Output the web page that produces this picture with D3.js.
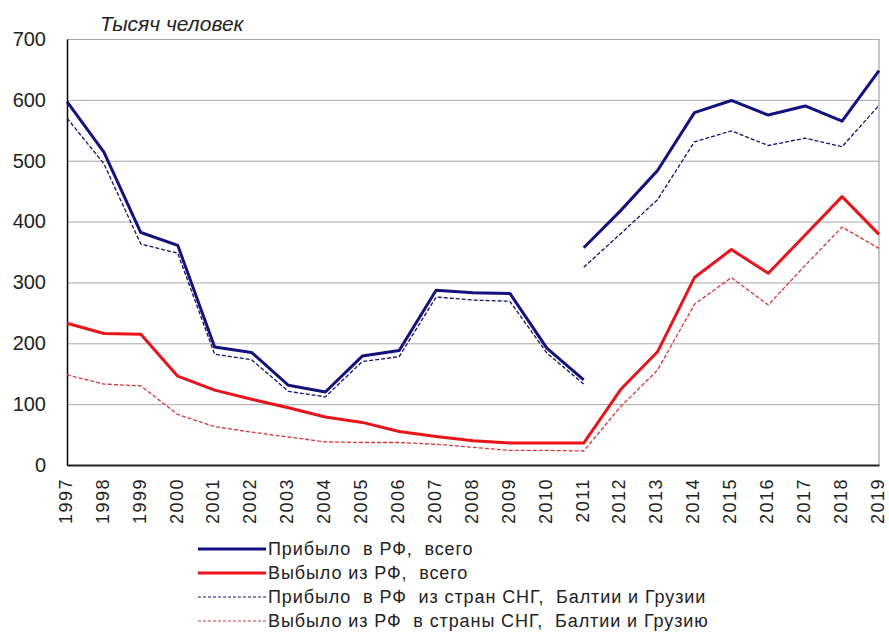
<!DOCTYPE html>
<html>
<head>
<meta charset="utf-8">
<script src="https://cdn.jsdelivr.net/npm/d3@7"></script>
<style>
  body { margin: 0; background: #fff; }
  text { font-family: Arial, "Liberation Sans", sans-serif; fill: #222; }
</style>
</head>
<body>
<div id="chart"></div>
<script>
const years = [1997, 1998, 1999, 2000, 2001, 2002, 2003, 2004, 2005, 2006, 2007, 2008,
               2009, 2010, 2011, 2012, 2013, 2014, 2015, 2016, 2017, 2018, 2019];
const yTicks = [0, 100, 200, 300, 400, 500, 600, 700];

// arrivals, old methodology 1997-2011 and new methodology 2011-2019
const arrivedOld = [597, 514, 382, 361, 194, 185, 131, 120, 179, 188, 287, 283, 282, 192, 140];
const arrivedNew = [357, 418, 484, 579, 599, 575, 590, 565, 648];
const cisArrivedOld = [570, 495, 363, 348, 182, 173, 121, 112, 170, 178, 276, 271, 269, 184, 133];
const cisArrivedNew = [325, 380, 436, 531, 549, 525, 537, 523, 591];
// departures 1997-2019
const departed = [233, 216, 215, 146, 123, 108, 94, 79, 70, 55, 47, 40, 36, 36, 36,
                  124, 186, 308, 354, 315, 378, 441, 379];
const cisDeparted = [148, 133, 130, 83, 63, 54, 46, 38, 37, 37, 34, 29, 24, 24, 23,
                     96, 156, 264, 308, 263, 328, 391, 356];

const legendLabels = [
  "Прибыло  в РФ,  всего",
  "Выбыло из РФ,  всего",
  "Прибыло  в РФ  из стран СНГ,  Балтии и Грузии",
  "Выбыло из РФ  в страны СНГ,  Балтии и Грузию"
];

const W = 889, H = 641;
const margin = { left: 67, right: 879, top: 39, bottom: 465 };

const svg = d3.select("#chart").append("svg")
  .attr("width", W)
  .attr("height", H);

const x = d3.scalePoint().domain(years).range([margin.left, margin.right]);
const y = d3.scaleLinear().domain([0, 700]).range([margin.bottom, margin.top]);

// grid lines
svg.append("g")
  .attr("transform", `translate(${margin.left},0)`)
  .call(d3.axisLeft(y).tickValues(yTicks).tickSize(-(margin.right - margin.left)).tickFormat(""))
  .call(g => g.select(".domain").remove())
  .call(g => g.selectAll("line").attr("stroke", "#a8a8a8").attr("stroke-width", 1));

// right border
svg.append("line")
  .attr("x1", margin.right).attr("x2", margin.right)
  .attr("y1", margin.top).attr("y2", margin.bottom)
  .attr("stroke", "#909090");

// y labels
svg.append("g")
  .attr("transform", `translate(${margin.left},0)`)
  .call(d3.axisLeft(y).tickValues(yTicks).tickSize(0).tickPadding(21))
  .call(g => g.select(".domain").attr("stroke", "#000").attr("stroke-width", 1.5))
  .call(g => g.selectAll("text").style("font-size", "20px").attr("fill", "#333"));

// x axis
svg.append("g")
  .attr("transform", `translate(0,${margin.bottom})`)
  .call(d3.axisBottom(x).tickSize(0).tickFormat(d3.format("d")))
  .call(g => g.select(".domain").attr("stroke", "#222").attr("stroke-width", 2))
  .call(g => g.selectAll("text")
    .style("font-size", "18px")
    .style("letter-spacing", "1.5px")
    .attr("fill", "#333")
    .attr("text-anchor", "end")
    .attr("transform", "rotate(-90)")
    .attr("x", -13)
    .attr("y", -2)
    .attr("dy", "0.35em"));

// title
svg.append("text")
  .attr("x", 100)
  .attr("y", 31)
  .style("font-size", "21px")
  .style("font-style", "italic")
  .text("Тысяч человек");

const line = d3.line()
  .x(d => x(d.year))
  .y(d => y(d.value));

const pairs = (vals, startYear) => vals.map((v, i) => ({ year: startYear + i, value: v }));

const series = [
  { data: pairs(cisDeparted, 1997), color: "#d83838", width: 1.3, dash: "4,2" },
  { data: pairs(departed, 1997), color: "#e8141c", width: 3, dash: null },
  { data: pairs(cisArrivedOld, 1997), color: "#101070", width: 1.3, dash: "4,2" },
  { data: pairs(cisArrivedNew, 2011), color: "#101070", width: 1.3, dash: "4,2" },
  { data: pairs(arrivedOld, 1997), color: "#12127e", width: 3, dash: null },
  { data: pairs(arrivedNew, 2011), color: "#12127e", width: 3, dash: null }
];

series.forEach(s => {
  svg.append("path")
    .datum(s.data)
    .attr("d", line)
    .attr("fill", "none")
    .attr("stroke", s.color)
    .attr("stroke-width", s.width)
    .attr("stroke-linejoin", "round")
    .attr("stroke-dasharray", s.dash);
});

// legend
const legendStyles = [
  { color: "#12127e", width: 3, dash: null },
  { color: "#e8141c", width: 3, dash: null },
  { color: "#101070", width: 1.2, dash: "3,2" },
  { color: "#d83838", width: 1.2, dash: "3,2" }
];

const legend = svg.append("g");
legendLabels.forEach((label, i) => {
  const ly = 549 + i * 24;
  legend.append("line")
    .attr("x1", 198).attr("x2", 266)
    .attr("y1", ly).attr("y2", ly)
    .attr("stroke", legendStyles[i].color)
    .attr("stroke-width", legendStyles[i].width)
    .attr("stroke-dasharray", legendStyles[i].dash);
  legend.append("text")
    .attr("x", 268)
    .attr("y", ly)
    .attr("dy", "0.35em")
    .style("font-size", "18px")
    .style("letter-spacing", "0.9px")
    .style("white-space", "pre")
    .text(label);
});
</script>
</body>
</html>
